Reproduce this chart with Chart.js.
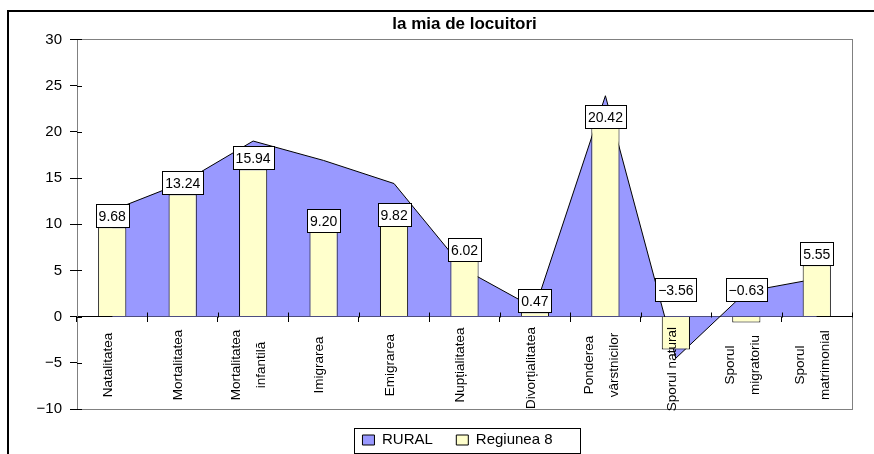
<!DOCTYPE html>
<html>
<head>
<meta charset="utf-8">
<script src="https://cdn.jsdelivr.net/npm/chart.js@4.4.0/dist/chart.umd.min.js"></script>
<style>
  body { margin: 0; background: #fff; overflow: hidden; }
  #wrap { position: relative; width: 874px; height: 454px; }
  #frame { position: absolute; left: 7px; top: 10px; width: 900px; height: 500px; border: 2px solid #000; pointer-events: none; }
</style>
</head>
<body>
<div id="wrap">
  <canvas id="chart" width="874" height="454"></canvas>
  <div id="frame"></div>
</div>
<script>
let categories = [
  "Natalitatea",
  "Mortalitatea",
  ["Mortalitatea", "infantilă"],
  "Imigrarea",
  "Emigrarea",
  "Nupțialitatea",
  "Divorțialitatea",
  ["Ponderea", "vârstnicilor"],
  "Sporul natural",
  ["Sporul", "migratoriu"],
  ["Sporul", "matrimonial"]
];
let ruralValues = [11.5, 14.5, 19.0, 16.9, 14.4, 5.1, 0.9, 23.9, -4.5, 2.7, 4.1];
let regionValues = [9.68, 13.24, 15.94, 9.2, 9.82, 6.02, 0.47, 20.42, -3.56, -0.63, 5.55];
let yTicks = [-10, -5, 0, 5, 10, 15, 20, 25, 30];

let font = "'Liberation Sans', Arial, sans-serif";
let minus = (s) => s.replace("-", "\u2212");

// grey frame round the plot area
let framePlugin = {
  id: "frame",
  beforeDatasetsDraw(chart) {
    let a = chart.chartArea;
    let ctx = chart.ctx;
    ctx.save();
    ctx.strokeStyle = "#808080";
    ctx.lineWidth = 1;
    ctx.strokeRect(Math.round(a.left) + 0.5, Math.round(a.top) + 0.5,
      Math.round(a.right - a.left), Math.round(a.bottom - a.top));
    ctx.restore();
  }
};

// Excel style tick marks that cross the axis lines (inner half)
let innerTicks = {
  id: "innerTicks",
  afterDatasetsDraw(chart) {
    let xs = chart.scales.x;
    let ys = chart.scales.y;
    let zero = Math.round(ys.getPixelForValue(0)) + 0.5;
    let ctx = chart.ctx;
    ctx.save();
    ctx.strokeStyle = "#000";
    ctx.lineWidth = 1;
    ctx.beginPath();
    yTicks.forEach(v => {
      let y = Math.round(ys.getPixelForValue(v)) + 0.5;
      ctx.moveTo(ys.right, y);
      ctx.lineTo(ys.right + 5, y);
    });
    let step = (xs.right - xs.left) / categories.length;
    for (let k = 1; k <= categories.length; k++) {
      let x = Math.round(xs.left + k * step) + 0.5;
      ctx.moveTo(x, zero);
      ctx.lineTo(x, zero - 5);
    }
    ctx.stroke();
    ctx.restore();
  }
};

// category names, vertical, lines centred on each other like in Excel
let axisLabels = {
  id: "axisLabels",
  afterDatasetsDraw(chart) {
    let xs = chart.scales.x;
    let zero = chart.scales.y.getPixelForValue(0);
    let ctx = chart.ctx;
    ctx.save();
    ctx.font = "13.5px " + font;
    ctx.fillStyle = "#000";
    ctx.textAlign = "center";
    ctx.textBaseline = "middle";
    categories.forEach((label, i) => {
      let lines = Array.isArray(label) ? label : [label];
      let longest = Math.max(...lines.map(l => ctx.measureText(l).width));
      let cy = Math.max(zero + 48.5, zero + 10.5 + longest / 2);
      let px = xs.getPixelForTick(i) - 4;
      lines.forEach((line, j) => {
        ctx.save();
        ctx.translate(px + (j - (lines.length - 1) / 2) * 25, cy);
        ctx.rotate(-Math.PI / 2);
        ctx.fillText(line, 0, 0);
        ctx.restore();
      });
    });
    ctx.restore();
  }
};

// boxed value labels above the bars
let valueLabels = {
  id: "valueLabels",
  afterDatasetsDraw(chart) {
    let ctx = chart.ctx;
    let meta = chart.getDatasetMeta(1);
    let zero = chart.scales.y.getPixelForValue(0);
    ctx.save();
    ctx.font = "14px " + font;
    ctx.textAlign = "center";
    ctx.textBaseline = "middle";
    meta.data.forEach((bar, i) => {
      let v = regionValues[i];
      let text = minus(v.toFixed(2));
      let w = Math.round(ctx.measureText(text).width + 6);
      let h = 23;
      let bottom = v >= 0 ? bar.y : zero - 16;
      let x = Math.round(bar.x - w / 2) + 0.5;
      let y = Math.round(bottom - h) + 0.5;
      ctx.fillStyle = "#fff";
      ctx.fillRect(x, y, w, h);
      ctx.strokeStyle = "#000";
      ctx.lineWidth = 1;
      ctx.strokeRect(x, y, w, h);
      ctx.fillStyle = "#000";
      ctx.fillText(text, bar.x, y + h / 2 + 1);
    });
    ctx.restore();
  }
};

// border round the legend
let legendBox = {
  id: "legendBox",
  afterLayout(chart) {
    chart.legend.left -= 7;
    chart.legend.right -= 7;
  },
  afterDraw(chart) {
    let hb = chart.legend.legendHitBoxes;
    if (!hb || !hb.length) return;
    let first = hb[0];
    let last = hb[hb.length - 1];
    let mid = first.top + first.height / 2;
    let ctx = chart.ctx;
    let left = Math.round(first.left - 8) + 0.5;
    let right = Math.round(last.left + last.width + 27) + 0.5;
    let top = Math.round(mid - 12.5) + 0.5;
    ctx.save();
    ctx.strokeStyle = "#000";
    ctx.lineWidth = 1;
    ctx.strokeRect(left, top, right - left, 25);
    ctx.restore();
  }
};

new Chart("chart", {
  data: {
    labels: categories,
    datasets: [
      {
        type: "line",
        label: "RURAL",
        data: ruralValues,
        backgroundColor: "#9999FF",
        borderColor: "#000",
        borderWidth: 1,
        fill: "origin",
        tension: 0,
        pointRadius: 0,
        order: 2
      },
      {
        type: "bar",
        label: "Regiunea 8",
        data: regionValues,
        backgroundColor: "#FFFFCC",
        borderColor: "#000",
        borderWidth: 1,
        categoryPercentage: 1,
        barPercentage: 0.4,
        order: 1
      }
    ]
  },
  options: {
    responsive: false,
    animation: false,
    layout: { padding: { left: 0, right: 22, top: 0, bottom: -3.5 } },
    plugins: {
      title: {
        display: true,
        fullSize: false,
        text: "la mia de locuitori",
        color: "#000",
        font: { family: font, size: 17, weight: "bold" },
        padding: { top: 14, bottom: 5 }
      },
      legend: {
        position: "bottom",
        fullSize: false,
        labels: {
          color: "#000",
          font: { family: font, size: 15 },
          boxWidth: 12,
          boxHeight: 10,
          padding: 23.5,
          sort: (a, b) => a.datasetIndex - b.datasetIndex
        }
      },
      tooltip: { enabled: false }
    },
    scales: {
      x: {
        type: "category",
        position: { y: 0 },
        offset: true,
        grid: { display: true, drawOnChartArea: false, color: "#000", tickLength: 5, offset: true },
        border: { color: "#000", width: 1 },
        ticks: { display: false }
      },
      y: {
        min: yTicks[0],
        max: yTicks[yTicks.length - 1],
        afterFit(scale) { scale.width = 77; },
        afterBuildTicks(scale) { scale.ticks = yTicks.map(v => ({ value: v })); },
        grid: { drawOnChartArea: false, color: "#000", tickLength: 7 },
        border: { color: "#000", width: 1 },
        ticks: {
          color: "#000",
          font: { family: font, size: 15 },
          padding: 8,
          callback: (v) => minus(String(v))
        }
      }
    }
  },
  plugins: [framePlugin, innerTicks, axisLabels, valueLabels, legendBox]
});
</script>
</body>
</html>
